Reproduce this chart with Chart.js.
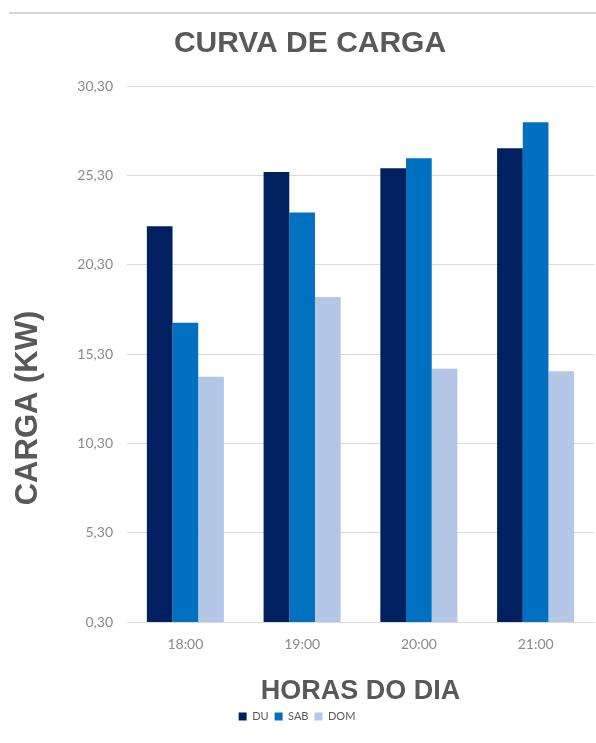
<!DOCTYPE html>
<html>
<head>
<meta charset="utf-8">
<script src="https://cdn.jsdelivr.net/npm/chart.js@4/dist/chart.umd.min.js"></script>
<style>
  html, body { margin: 0; padding: 0; background: #ffffff; }
  #wrap { position: relative; width: 596px; height: 743px; }
  #topRule { position: absolute; left: 9px; top: 12px; width: 587px; height: 0; border-top: 2px solid #d6d6d6; }
  canvas { position: absolute; left: 0; top: 0; }
</style>
</head>
<body>
<div id="wrap">
  <div id="topRule"></div>
  <canvas id="chart" width="596" height="743"></canvas>
</div>
<script>
// Horas do dia
const categories = ['18:00', '19:00', '20:00', '21:00'];
// Carga (kW) por tipo de dia
const duValues  = [22.45, 25.48, 25.69, 26.81];
const sabValues = [17.05, 23.22, 26.25, 28.27];
const domValues = [14.02, 18.49, 14.47, 14.34];
// Marcas do eixo vertical
const yTicks = [0.3, 5.3, 10.3, 15.3, 20.3, 25.3, 30.3];

const titleColor = '#595959';
const tickColor = '#8a8a8a';
const gridColor = '#d9d9d9';
const boldFont = '"Liberation Sans", Arial, sans-serif';

// Título principal e título do eixo vertical
const chartTexts = {
  id: 'chartTexts',
  afterDraw(chart) {
    const { ctx, chartArea } = chart;
    ctx.save();
    ctx.fillStyle = titleColor;
    ctx.textAlign = 'center';
    ctx.textBaseline = 'middle';
    ctx.font = 'bold 30px ' + boldFont;
    ctx.fillText('CURVA DE CARGA', 310, 44);
    ctx.translate(28, chartArea.bottom - 214);
    ctx.rotate(-Math.PI / 2);
    ctx.font = 'bold 31px ' + boldFont;
    ctx.fillText('CARGA (KW)', 0, 0);
    ctx.restore();
  }
};

new Chart(document.getElementById('chart'), {
  type: 'bar',
  data: {
    labels: categories,
    datasets: [
      { label: 'DU',  data: duValues,  backgroundColor: '#002060' },
      { label: 'SAB', data: sabValues, backgroundColor: '#0070C0' },
      { label: 'DOM', data: domValues, backgroundColor: '#B4C7E7' }
    ]
  },
  options: {
    responsive: false,
    animation: false,
    layout: { padding: { left: 0, right: 2, top: 86, bottom: 11 } },
    datasets: { bar: { categoryPercentage: 0.66, barPercentage: 1.0 } },
    plugins: {
      title: { display: false },
      legend: {
        position: 'bottom',
        labels: {
          boxWidth: 8,
          boxHeight: 8,
          padding: 6,
          color: titleColor,
          font: { family: 'Lato, sans-serif', size: 11 }
        }
      },
      tooltip: { enabled: false }
    },
    scales: {
      x: {
        afterFit(scale) { scale.height = 83; },
        grid: { display: false, drawTicks: false },
        border: { display: true, color: gridColor, width: 1 },
        ticks: { color: tickColor, padding: 14, font: { family: 'Lato, sans-serif', size: 14 } },
        title: {
          display: true,
          text: 'HORAS DO DIA',
          color: titleColor,
          font: { family: boldFont, size: 27, weight: 'bold', lineHeight: 1 },
          padding: { top: 0, bottom: 0 }
        }
      },
      y: {
        min: 0.3,
        max: 30.3,
        afterBuildTicks(scale) { scale.ticks = yTicks.map(v => ({ value: v })); },
        afterFit(scale) { scale.width = 127; },
        grid: { color: gridColor, lineWidth: 1, drawTicks: false },
        border: { display: false },
        ticks: {
          color: tickColor,
          padding: 14,
          font: { family: 'Lato, sans-serif', size: 14 },
          callback: (v) => Number(v).toFixed(2).replace('.', ',')
        }
      }
    }
  },
  plugins: [chartTexts]
});
</script>
</body>
</html>
